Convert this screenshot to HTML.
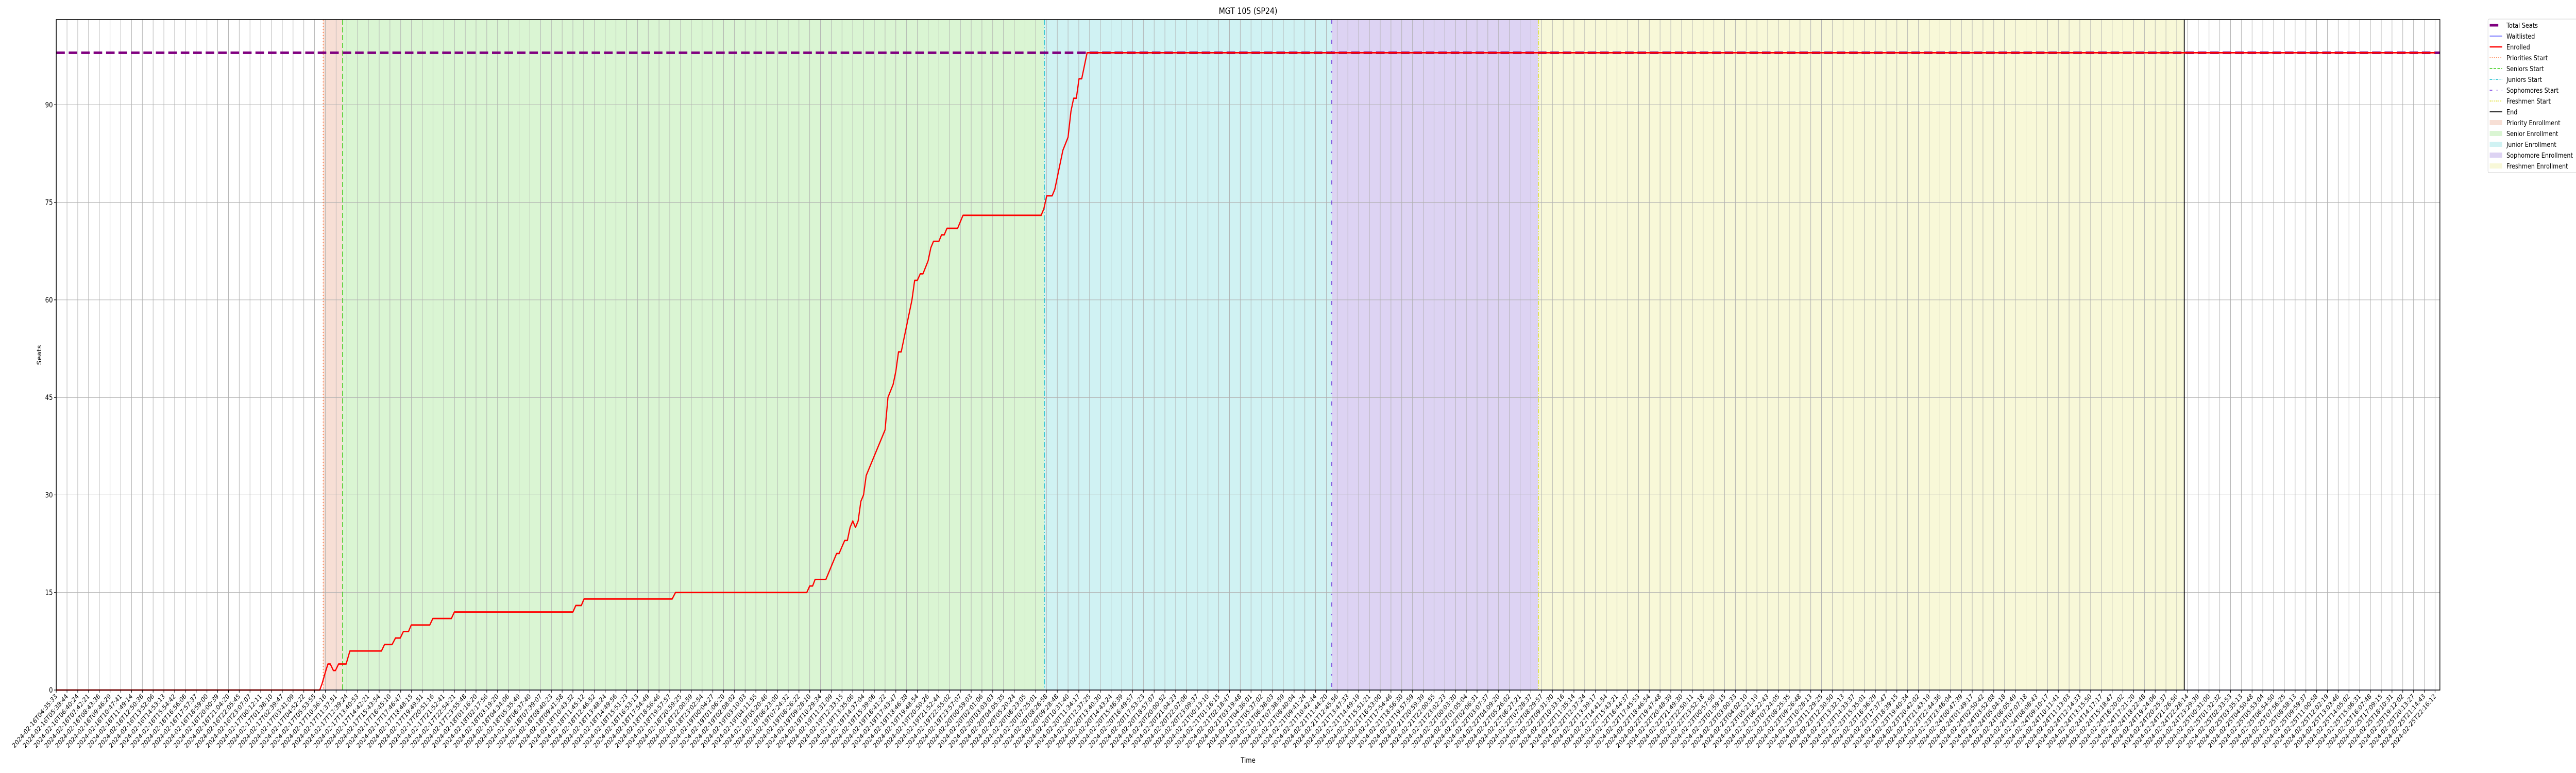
<!DOCTYPE html>
<html><head><meta charset="utf-8"><style>
html,body{margin:0;padding:0;background:#fff;width:100vw;height:100vh;overflow:hidden;}
svg{display:block;position:absolute;left:0;top:0;width:100vw;height:100vh;font-family:"DejaVu Sans","Liberation Sans",sans-serif;overflow:hidden;}
</style></head><body>
<svg id="chart" viewBox="0 0 6000 1500" preserveAspectRatio="none" xmlns="http://www.w3.org/2000/svg">
<rect x="0" y="0" width="6000" height="1500" fill="#fff"/>
<text x="2907" y="27" font-size="17" text-anchor="middle" fill="#000">MGT 105 (SP24)</text>
<text x="0" y="0" font-size="14" text-anchor="middle" transform="translate(96,689) rotate(-90)">Seats</text>
<text x="2907" y="1480" font-size="14" text-anchor="middle">Time</text>
<g id="shading"></g><g id="grid"></g><g id="phaselines"></g><g id="series"></g><g id="axes"></g>
<g id="legend"></g>
</svg>
<script>
const tickLabels = ["16T04:35:33","16T05:38:44","16T06:40:24","16T07:42:21","16T08:43:36","16T09:46:29","16T10:47:41","16T11:49:14","16T12:50:36","16T13:52:06","16T14:53:13","16T15:54:42","16T16:56:06","16T17:57:37","16T18:59:00","16T20:00:39","16T21:04:20","16T22:05:45","16T23:07:07","17T00:12:11","17T01:38:10","17T02:39:47","17T03:41:09","17T04:52:22","17T05:53:55","17T10:36:16","17T11:37:51","17T12:39:24","17T13:40:53","17T14:42:21","17T15:43:54","17T16:45:10","17T17:46:47","17T18:48:15","17T19:49:51","17T20:51:16","17T21:52:41","17T22:54:21","17T23:55:48","18T01:16:20","18T02:17:56","18T03:19:20","18T04:34:06","18T05:35:49","18T06:37:40","18T07:39:07","18T08:40:23","18T09:41:58","18T10:43:32","18T11:45:12","18T12:46:52","18T13:48:24","18T14:49:56","18T15:51:23","18T16:53:13","18T17:54:49","18T18:56:46","18T19:57:57","18T20:59:25","18T22:00:59","18T23:02:54","19T00:04:27","19T01:06:20","19T02:08:02","19T03:10:03","19T04:11:55","19T05:20:46","19T06:23:00","19T07:24:32","19T08:26:22","19T09:28:10","19T10:29:34","19T11:31:09","19T12:33:15","19T13:35:06","19T14:37:04","19T15:39:06","19T16:41:22","19T17:43:47","19T18:46:38","19T19:48:54","19T20:50:26","19T21:52:44","19T22:55:02","19T23:57:07","20T00:59:03","20T02:01:06","20T03:03:03","20T04:05:35","20T05:20:24","20T06:23:05","20T07:25:01","20T08:26:58","20T09:28:48","20T10:31:40","20T11:34:17","20T12:37:25","20T13:40:30","20T14:43:24","20T15:46:39","20T16:49:57","20T17:53:23","20T18:57:07","20T20:00:52","20T21:04:23","20T22:07:06","20T23:09:37","21T00:13:10","21T01:16:15","21T02:18:47","21T03:19:48","21T04:36:01","21T05:37:02","21T06:38:03","21T07:38:59","21T08:40:04","21T09:41:24","21T10:42:44","21T11:44:20","21T12:45:56","21T13:47:33","21T14:49:19","21T15:51:21","21T16:53:00","21T17:54:46","21T18:56:30","21T19:57:59","21T20:59:39","21T22:00:55","21T23:02:23","22T00:03:30","22T01:05:04","22T02:06:31","22T03:07:37","22T04:09:20","22T05:26:02","22T06:27:21","22T07:28:37","22T08:29:57","22T09:31:30","22T10:33:16","22T11:35:14","22T12:37:24","22T13:39:17","22T14:41:54","22T15:43:21","22T16:44:37","22T17:45:53","22T18:46:54","22T19:47:48","22T20:48:39","22T21:49:30","22T22:50:11","22T23:52:18","23T00:57:50","23T01:59:15","23T03:00:33","23T04:02:10","23T05:21:19","23T06:22:43","23T07:24:05","23T08:25:35","23T09:26:48","23T10:28:13","23T11:29:25","23T12:30:50","23T13:32:13","23T14:33:37","23T15:35:01","23T16:36:29","23T17:37:47","23T18:39:15","23T19:40:34","23T20:42:02","23T21:43:19","23T22:44:36","23T23:46:04","24T00:47:39","24T01:49:17","24T02:50:42","24T03:52:08","24T05:04:18","24T06:05:49","24T07:07:18","24T08:08:43","24T09:10:17","24T10:11:41","24T11:13:03","24T12:14:33","24T13:15:50","24T14:17:17","24T15:18:47","24T16:20:02","24T17:21:20","24T18:22:48","24T19:24:06","24T20:25:37","24T21:26:56","24T22:28:14","24T23:29:39","25T00:31:00","25T01:32:32","25T02:33:53","25T03:35:13","25T04:50:48","25T05:53:04","25T06:54:50","25T07:56:25","25T08:58:13","25T09:59:37","25T11:00:58","25T12:02:19","25T13:03:46","25T14:05:02","25T15:06:31","25T16:07:48","25T17:09:15","25T18:10:31","25T19:12:02","25T20:13:27","25T21:14:43","25T22:16:12"];
const yTicks = [0,15,30,45,60,75,90];
const totalSeats = [98];
const enrolledX = [0,24.48,24.7,25.05,25.24,25.46,25.75,25.94,26.23,26.93,27.28,30.21,30.5,31.2,31.52,31.96,32.25,32.73,32.98,34.7,34.99,36.71,36.99,48.0,48.27,48.78,49.03,57.22,57.53,69.73,70.0,70.27,70.5,71.5,72.5,72.73,73.25,73.5,73.75,74.0,74.25,74.5,74.75,75.0,75.25,77.0,77.27,77.75,78.0,78.25,78.5,79.5,79.75,80.0,80.27,80.52,81.0,81.25,81.5,82.0,82.25,82.5,82.75,83.74,84.24,91.5,91.75,92.02,92.52,92.77,93.52,94.0,94.27,94.52,94.77,95.02,95.27,95.77,221];
const enrolledY = [0,0,1,3,4,4,3,3,4,4,6,6,7,7,8,8,9,9,10,10,11,11,12,12,13,13,14,14,15,15,16,16,17,17,21,21,23,23,25,26,25,26,29,30,33,40,45,47,49,52,52,60,63,63,64,64,66,68,69,69,70,70,71,71,73,73,74,76,76,77,83,85,89,91,91,94,94,98,98];
const waitlistX = [24.5,221];
const waitlistY = [0,0];
const phaseNames = ["Priority Enrollment","Senior Enrollment","Junior Enrollment","Sophomore Enrollment","Freshmen Enrollment"];
const phaseStarts = [24.8,26.6,91.8,118.5,137.7];
const endIndex = [197.7];

const NS="http://www.w3.org/2000/svg";
const X0=131,X1=5683,XMAX=221.45,Y0=1339,Y1=38,YMAX=103.1;
const xs=i=>X0+i*(X1-X0)/XMAX;
const ys=v=>Y0-v*(Y0-Y1)/YMAX;
function mk(tag,attrs,parent){const e=document.createElementNS(NS,tag);for(const k in attrs)e.setAttribute(k,attrs[k]);parent.appendChild(e);return e;}
const gShade=document.getElementById('shading'),gGrid=document.getElementById('grid'),gPh=document.getElementById('phaselines'),gSer=document.getElementById('series'),gAx=document.getElementById('axes'),gLeg=document.getElementById('legend');
const fills=["#f7dfd5","#daf5d3","#d0f2f3","#ddd3f3","#f8f8d8"];
const bounds=phaseStarts.concat(endIndex);
for(let p=0;p<phaseStarts.length;p++){
  const r=mk('rect',{x:xs(bounds[p]),y:Y1,width:xs(bounds[p+1])-xs(bounds[p]),height:Y0-Y1,fill:fills[p]},gShade);
  
  
}
tickLabels.forEach((t,i)=>{
  const l=mk('line',{x1:xs(i),x2:xs(i),y1:Y1,y2:Y0,stroke:'#b0b0b0','stroke-width':1.1},gGrid);
  
  
});
yTicks.forEach(v=>{
  const l=mk('line',{x1:X0,x2:X1,y1:ys(v),y2:ys(v),stroke:'#b0b0b0','stroke-width':1.1},gGrid);
  
  
});
const phColors=["#ff6a2a","#33cc11","#11bbcc","#6622dd","#dddd22"];
const phDash=["2,4","10,5","10,4,2,4","8,14,3,14","8,3,2,3,2,3"];
const phLabels=["Priorities Start","Seniors Start","Juniors Start","Sophomores Start","Freshmen Start"];
phaseStarts.forEach((v,p)=>{
  const l=mk('line',{x1:xs(v),x2:xs(v),y1:Y1,y2:Y0,stroke:phColors[p],'stroke-width':1.6,'stroke-dasharray':phDash[p]},gPh);
  
  
});
const endLine=mk('line',{x1:xs(endIndex[0]),x2:xs(endIndex[0]),y1:Y1,y2:Y0,stroke:'#000','stroke-width':2},gPh);


const ts=mk('line',{x1:X0,x2:X1,y1:ys(totalSeats[0]),y2:ys(totalSeats[0]),stroke:'#800080','stroke-width':5,'stroke-dasharray':'20,9'},gSer);


const wl=mk('polyline',{points:waitlistX.map((x,i)=>xs(x)+','+ys(waitlistY[i])).join(' '),fill:'none',stroke:'#6a6aff','stroke-width':1.5},gSer);


const en=mk('polyline',{points:enrolledX.map((x,i)=>xs(x)+','+ys(enrolledY[i])).join(' '),fill:'none',stroke:'#ff0000','stroke-width':2.8,'stroke-linejoin':'round'},gSer);


const frame=mk('rect',{x:X0,y:Y1,width:X1-X0,height:Y0-Y1,fill:'none',stroke:'#000','stroke-width':1.6},gAx);


yTicks.forEach(v=>{
  mk('line',{x1:X0-5,x2:X0,y1:ys(v),y2:ys(v),stroke:'#000','stroke-width':1.2},gAx);
  const t=mk('text',{x:X0-8,y:ys(v)+5,'font-size':14,'text-anchor':'end'},gAx);
  t.textContent=v;
  
  
});
tickLabels.forEach((s,i)=>{
  mk('line',{x1:xs(i),x2:xs(i),y1:Y0,y2:Y0+5,stroke:'#000','stroke-width':1.2},gAx);
  const t=mk('text',{x:0,y:0,'font-size':13,'text-anchor':'end',transform:'translate('+(xs(i)+3)+','+(Y0+13)+') rotate(-45)'},gAx);
  t.textContent='2024-02-'+s;
  
  
});
const box=mk('rect',{x:5795,y:37,width:215,height:298,rx:3,fill:'#fff',stroke:'#d0d0d0','stroke-width':1},gLeg);


const legItems=[
 {l:'Total Seats',k:'line',c:'#800080',w:5,d:''},
 {l:'Waitlisted',k:'line',c:'#3333ff',w:1.2,d:''},
 {l:'Enrolled',k:'line',c:'#ff0000',w:2.6,d:''},
 {l:phLabels[0],k:'line',c:phColors[0],w:1.5,d:'2,3'},
 {l:phLabels[1],k:'line',c:phColors[1],w:1.5,d:'6,3'},
 {l:phLabels[2],k:'line',c:phColors[2],w:1.5,d:'6,3,2,3'},
 {l:phLabels[3],k:'line',c:phColors[3],w:1.5,d:'6,10,2,10'},
 {l:phLabels[4],k:'line',c:phColors[4],w:1.5,d:'4,2,2,2,2,2'},
 {l:'End',k:'line',c:'#000',w:1.8,d:''}
];
phaseNames.forEach((n,p)=>legItems.push({l:n,k:'patch',c:fills[p]}));
legItems.forEach((it,i)=>{
  const cy=49+i*21;
  let h;
  if(it.k==='line'){
    h=mk('line',{x1:5799,x2:5828,y1:cy,y2:cy,stroke:it.c,'stroke-width':it.w},gLeg);
    if(it.d)h.setAttribute('stroke-dasharray',it.d);
    if(i===0){h.setAttribute('x2','5819');}
  } else {
    h=mk('rect',{x:5799,y:cy-5,width:29,height:10,fill:it.c},gLeg);
  }
  
  
  const t=mk('text',{x:5838,y:cy+5,'font-size':13.5},gLeg);
  t.textContent=it.l;
  
  
});
</script>
</body></html>
